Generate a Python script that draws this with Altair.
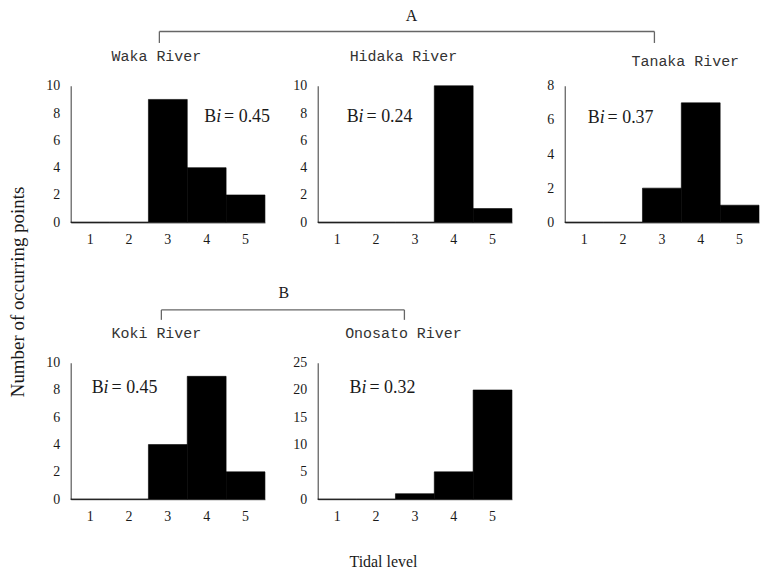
import altair as alt
import pandas as pd

levels = [1, 2, 3, 4, 5]
rivers = ["Waka River", "Hidaka River", "Tanaka River", "Koki River", "Onosato River"]
waka = [0, 0, 9, 4, 2]
hidaka = [0, 0, 0, 10, 1]
tanaka = [0, 0, 2, 7, 1]
koki = [0, 0, 4, 9, 2]
onosato = [0, 0, 1, 5, 20]
counts = [waka, hidaka, tanaka, koki, onosato]
bi_values = ["0.45", "0.24", "0.37", "0.45", "0.32"]
y_max = [10, 10, 8, 10, 25]
y_ticks = [[0, 2, 4, 6, 8, 10], [0, 2, 4, 6, 8, 10], [0, 2, 4, 6, 8],
           [0, 2, 4, 6, 8, 10], [0, 5, 10, 15, 20, 25]]
group_labels = ["A", "B"]
x_title = "Tidal level"
y_title = "Number of occurring points"

W, H = 195, 137
SERIF = "Liberation Serif"
MONO = "Liberation Mono"
TXT = "#1a1a1a"
LINE = "#666666"

# layout of annotations (pixels relative to each panel's plot origin)
bi_pos = [(134, 31), (29, 31), (23, 32), (21, 25), (32, 25)]
title_pos = [(86, -30), (86, -30), (121, -25), (86, -30), (86, -30)]

one = pd.DataFrame({"k": [0]})


def txt(text, x, y, **kw):
    return alt.Chart(one).mark_text(text=text, **kw).encode(x=alt.value(x), y=alt.value(y))


def rule(x, y, x2=None, y2=None):
    enc = {"x": alt.value(x), "y": alt.value(y)}
    if x2 is not None:
        enc["x2"] = alt.value(x2)
    if y2 is not None:
        enc["y2"] = alt.value(y2)
    return alt.Chart(one).mark_rule(color=LINE, strokeWidth=1.3).encode(**enc)


def bracket(x1, x2, y, ytick, label, lx, ly):
    return [
        rule(x1, y, x2=x2),
        rule(x1, y, y2=ytick),
        rule(x2, y, y2=ytick),
        txt(label, lx, ly, font=SERIF, fontSize=16, color=TXT, align="center", baseline="middle"),
    ]


def panel(i, extra=()):
    df = pd.DataFrame({"level": levels, "count": counts[i]})
    bars = alt.Chart(df).mark_bar(color="black", stroke="black", strokeWidth=0.6).encode(
        x=alt.X("level:O", scale=alt.Scale(paddingInner=0, paddingOuter=0),
                axis=alt.Axis(title=None, labelAngle=0, ticks=False, tickSize=0,
                              labelPadding=10, labelFont=SERIF, labelFontSize=14,
                              labelColor=TXT)),
        y=alt.Y("count:Q", scale=alt.Scale(domain=[0, y_max[i]], nice=False),
                axis=alt.Axis(title=None, values=y_ticks[i], ticks=False, tickSize=0,
                              labelPadding=11, grid=False, labelFont=SERIF,
                              labelFontSize=14, labelColor=TXT)),
    )
    bx, by = bi_pos[i]
    layers = [
        bars,
        txt("B", bx, by, font=SERIF, fontSize=18, color=TXT, align="left", baseline="middle"),
        txt("i", bx + 12, by, font=SERIF, fontSize=18, fontStyle="italic", color=TXT,
            align="left", baseline="middle"),
        txt("= " + bi_values[i], bx + 20, by, font=SERIF, fontSize=18, color=TXT,
            align="left", baseline="middle"),
        txt(rivers[i], title_pos[i][0], title_pos[i][1], font=MONO, fontSize=15, color="#333333",
            align="center", baseline="middle"),
    ]
    layers += list(extra)
    return alt.layer(*layers).properties(width=W, height=H)


p1 = panel(0, extra=bracket(89, 586, -54.5, -43, group_labels[0], 342, -70) + [
    txt(y_title, -53, 207, font=SERIF, fontSize=19, color=TXT, angle=270,
        align="center", baseline="middle"),
    txt(x_title, 314, 478, font=SERIF, fontSize=16, color=TXT, align="center", baseline="middle"),
])
p2 = panel(1)
p3 = panel(2)
p4 = panel(3, extra=bracket(91, 335, -53, -43, group_labels[1], 214, -70))
p5 = panel(4)

chart = alt.concat(
    p1, p2, p3, p4, p5, columns=3, bounds="flush",
    spacing={"row": 141, "column": 53},
).properties(
    padding={"left": 9, "top": 7, "right": 0, "bottom": 0}
).configure_view(stroke=None).configure_axis(
    domainColor=LINE, domainWidth=1.3, grid=False,
)

chart.save("out.html", embed_options={"renderer": "svg", "actions": False})
